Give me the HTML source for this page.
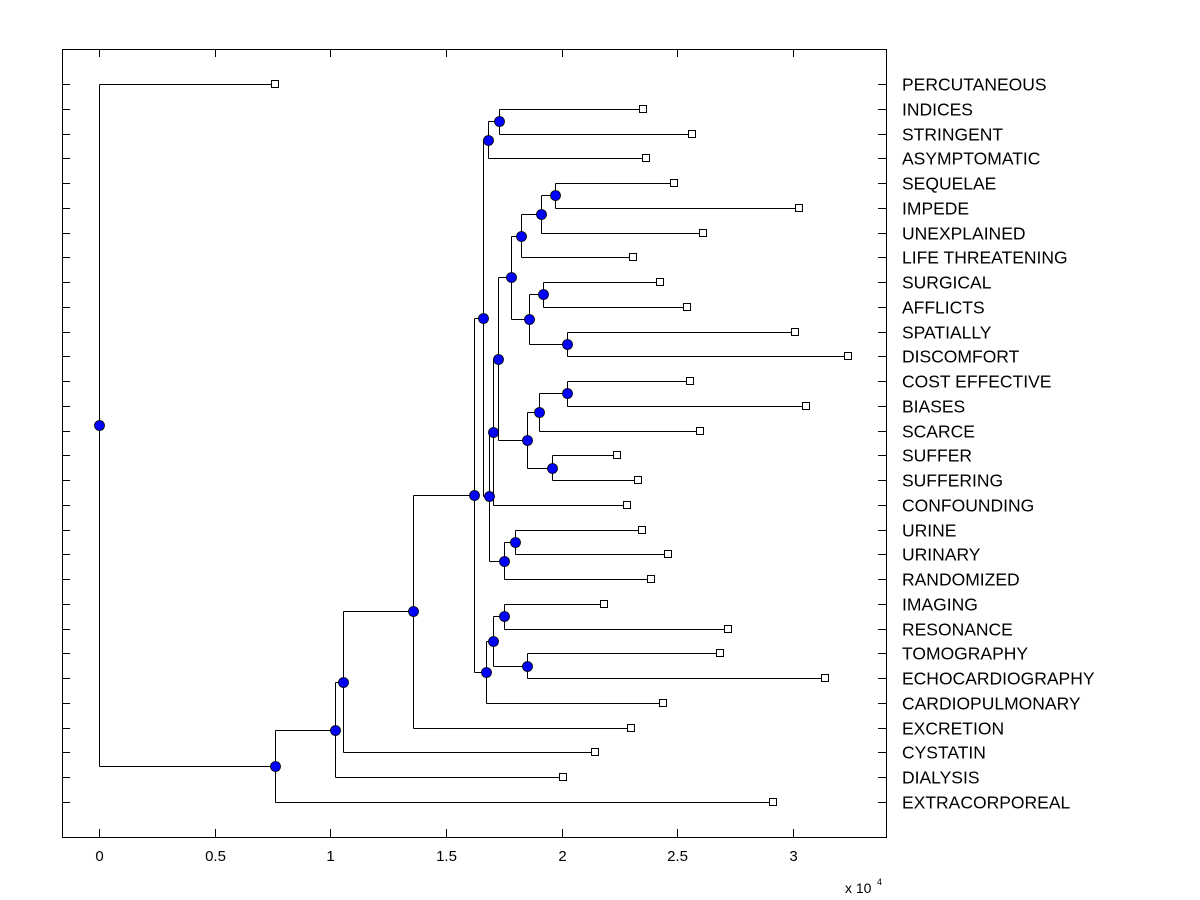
<!DOCTYPE html>
<html><head><meta charset="utf-8"><style>body{margin:0;background:#fff}svg{display:block}text{font-family:"Liberation Sans",sans-serif}</style></head>
<body>
<svg id="chart" width="1200" height="900">
<rect x="0" y="0" width="1200" height="900" fill="#fff"/>
</svg>
<script>
const leafNames = ["PERCUTANEOUS","INDICES","STRINGENT","ASYMPTOMATIC","SEQUELAE","IMPEDE","UNEXPLAINED","LIFE THREATENING","SURGICAL","AFFLICTS","SPATIALLY","DISCOMFORT","COST EFFECTIVE","BIASES","SCARCE","SUFFER","SUFFERING","CONFOUNDING","URINE","URINARY","RANDOMIZED","IMAGING","RESONANCE","TOMOGRAPHY","ECHOCARDIOGRAPHY","CARDIOPULMONARY","EXCRETION","CYSTATIN","DIALYSIS","EXTRACORPOREAL"];
const leafValues = [0.761,2.352,2.564,2.365,2.486,3.026,2.611,2.309,2.425,2.542,3.009,3.238,2.555,3.057,2.598,2.240,2.330,2.283,2.348,2.460,2.387,2.183,2.719,2.685,3.139,2.438,2.300,2.144,2.006,2.914];
const nodeIds = ["root","A","B","C","D","E","F","J","H","M","K","N","O","Q","S","T","R","U","V","P","W","Y","X","L","Z","G","AA","AB","AC"];
const nodeValues = [0,0.761,1.020,1.055,1.358,1.621,1.660,1.686,1.682,1.729,1.703,1.725,1.781,1.825,1.911,1.971,1.859,1.920,2.023,1.850,1.902,2.023,1.959,1.751,1.799,1.673,1.703,1.751,1.850];
const nodeChildren = [["PERCUTANEOUS","A"],["B","EXTRACORPOREAL"],["C","DIALYSIS"],["D","CYSTATIN"],["E","EXCRETION"],["F","G"],["H","J"],["K","L"],["M","ASYMPTOMATIC"],["INDICES","STRINGENT"],["N","CONFOUNDING"],["O","P"],["Q","R"],["S","LIFE THREATENING"],["T","UNEXPLAINED"],["SEQUELAE","IMPEDE"],["U","V"],["SURGICAL","AFFLICTS"],["SPATIALLY","DISCOMFORT"],["W","X"],["Y","SCARCE"],["COST EFFECTIVE","BIASES"],["SUFFER","SUFFERING"],["Z","RANDOMIZED"],["URINE","URINARY"],["AA","CARDIOPULMONARY"],["AB","AC"],["IMAGING","RESONANCE"],["TOMOGRAPHY","ECHOCARDIOGRAPHY"]];
const xTicks = [0,0.5,1,1.5,2,2.5,3];
const xTickLabels = ["0","0.5","1","1.5","2","2.5","3"];

const NS="http://www.w3.org/2000/svg", svg=document.getElementById('chart');
const L=62,R=886,T=49,B=837;
const xs=v=>99+v*231.33;
const ys=i=>84+i*(802-84)/29;
function mk(t,a,p){const e=document.createElementNS(NS,t);for(const k in a)e.setAttribute(k,a[k]);(p||svg).appendChild(e);return e;}
const g=mk('g',{});


const box=mk('rect',{x:L+.5,y:T+.5,width:R-L,height:B-T,fill:'none',stroke:'#000'},g);


xTicks.forEach((v,i)=>{const x=Math.round(xs(v))+.5;
 mk('line',{x1:x,x2:x,y1:B,y2:B-8,stroke:'#000'},g);
 mk('line',{x1:x,x2:x,y1:T,y2:T+8,stroke:'#000'},g);
 const t=mk('text',{x:x,y:861,'text-anchor':'middle','font-size':'15'},g);t.textContent=xTickLabels[i];
 
 
});
const ex=mk('text',{x:845,y:893,'font-size':'14'},g);ex.textContent='x 10';


const ex2=mk('text',{x:877,y:885,'font-size':'9'},g);ex2.textContent='4';


const pos={};
leafNames.forEach((n,i)=>{pos[n]={x:xs(leafValues[i]),y:ys(i),leaf:true};
 const y=Math.round(ys(i))+.5;
 mk('line',{x1:L,x2:L+8,y1:y,y2:y,stroke:'#000'},g);
 mk('line',{x1:R-8,x2:R,y1:y,y2:y,stroke:'#000'},g);
 const t=mk('text',{x:902,y:y+6,'font-size':'17.5'},g);t.textContent=n;
 
 
});
function resolve(id){if(pos[id])return pos[id];const k=nodeIds.indexOf(id);
 const c=nodeChildren[k].map(resolve);pos[id]={x:xs(nodeValues[k]),y:(c[0].y+c[1].y)/2,k:k};return pos[id];}
resolve('root');
const lg=mk('g',{});


const mg=mk('g',{});


nodeIds.forEach((id,k)=>{const p=pos[id];const c=nodeChildren[k].map(n=>pos[n]);
 const x=Math.round(p.x)+.5;
 const d=`M${x},${Math.round(c[0].y)+.5}V${Math.round(c[1].y)+.5}`+c.map(q=>`M${x},${Math.round(q.y)+.5}H${Math.round(q.x)+.5}`).join('');
 const pe=mk('path',{d:d,fill:'none',stroke:'#000','stroke-width':1},lg);
 
 
});
leafNames.forEach(n=>{const p=pos[n];
 const r=mk('rect',{x:Math.round(p.x)-3.5,y:Math.round(p.y)-3.5,width:7,height:7,fill:'#fff',stroke:'#000'},mg);
 
 
});
nodeIds.forEach(id=>{const p=pos[id];
 const c=mk('circle',{cx:Math.round(p.x)+.5,cy:Math.round(p.y)+.5,r:5,fill:'#0000ff',stroke:'#000','stroke-width':0.8},mg);
 
 
});
</script>
</body></html>
